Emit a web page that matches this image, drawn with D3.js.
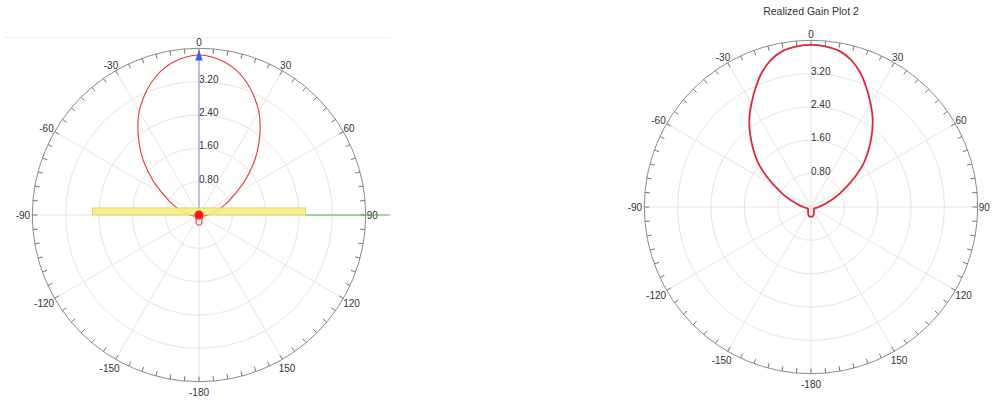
<!DOCTYPE html>
<html>
<head>
<meta charset="utf-8">
<script src="https://cdn.jsdelivr.net/npm/d3@7"></script>
<style>
    body { margin: 0; background: #fff; }
    text { font-family: "Liberation Sans", Arial, sans-serif; fill: #333; }
</style>
</head>
<body>
<div id="chart"></div>
<script>
// polar angle samples (deg, 0 = top, clockwise)
const angleDeg = [-180, -175, -170, -165, -160, -155, -150, -145, -140, -135, -130, -125,
    -120, -115, -110, -105, -100, -95, -90, -85, -80, -75, -70, -65,
    -60, -55, -50, -45, -40, -35, -30, -25, -20, -15, -10, -5,
    0, 5, 10, 15, 20, 25, 30, 35, 40, 45, 50, 55,
    60, 65, 70, 75, 80, 85, 90, 95, 100, 105, 110, 115,
    120, 125, 130, 135, 140, 145, 150, 155, 160, 165, 170, 175];

// realized gain
const gainPlot1 = [0.24, 0.24, 0.24, 0.22, 0.20, 0.165, 0.14, 0.125, 0.11, 0.10, 0.095, 0.09,
    0.085, 0.085, 0.09, 0.10, 0.13, 0.16, 0.20, 0.26, 0.35, 0.47, 0.61, 0.78,
    0.98, 1.27, 1.57, 1.91, 2.23, 2.56, 2.87, 3.13, 3.37, 3.57, 3.71, 3.80,
    3.84, 3.80, 3.71, 3.57, 3.37, 3.13, 2.87, 2.56, 2.23, 1.91, 1.57, 1.27,
    0.98, 0.78, 0.61, 0.47, 0.35, 0.26, 0.20, 0.16, 0.13, 0.10, 0.09, 0.085,
    0.085, 0.09, 0.095, 0.10, 0.11, 0.125, 0.14, 0.165, 0.20, 0.22, 0.24, 0.24];
const gainPlot2 = [0.23, 0.23, 0.23, 0.21, 0.19, 0.16, 0.14, 0.125, 0.11, 0.10, 0.095, 0.09,
    0.085, 0.085, 0.09, 0.10, 0.12, 0.15, 0.18, 0.23, 0.30, 0.40, 0.56, 0.76,
    1.00, 1.32, 1.66, 1.96, 2.27, 2.58, 2.86, 3.15, 3.44, 3.67, 3.81, 3.87,
    3.89, 3.87, 3.81, 3.67, 3.44, 3.15, 2.86, 2.58, 2.27, 1.96, 1.66, 1.32,
    1.00, 0.76, 0.56, 0.40, 0.30, 0.23, 0.18, 0.15, 0.12, 0.10, 0.09, 0.085,
    0.085, 0.09, 0.095, 0.10, 0.11, 0.125, 0.14, 0.16, 0.19, 0.21, 0.23, 0.23];

const ringValues = [0.8, 1.6, 2.4, 3.2, 4.0];
const ringLabels = ["0.80", "1.60", "2.40", "3.20"];
const spokeAngles = [0, 30, 60, 90, 120, 150, 180, -150, -120, -90, -60, -30];
const spokeLabels = ["0", "30", "60", "90", "120", "150", "-180", "-150", "-120", "-90", "-60", "-30"];

// overlay on plot 1 (in gain units)
const boardExtent = [-2.56, 2.56];
const boardThickness = 0.17;
const greenAxisEnd = 4.58;
const blueAxisEnd = 3.96;

class PolarPlot {

    constructor(svg, cx, cy, gains, opts) {
        this.svg = svg;
        this.cx = cx;
        this.cy = cy;
        this.gains = gains;
        this.opts = opts;
        this.initVis();
    }

    initVis() {
        let vis = this;
        vis.R = 166.7;

        vis.g = vis.svg.append("g")
            .attr("transform", "translate(" + vis.cx + "," + vis.cy + ")");

        vis.r = d3.scaleLinear().domain([0, 4]).range([0, vis.R]);
        vis.a = d3.scaleLinear().domain([-180, 180]).range([-Math.PI, Math.PI]);

        // grid rings
        vis.g.selectAll(".ring")
            .data(ringValues.slice(0, -1))
            .enter().append("circle")
            .attr("r", d => vis.r(d))
            .attr("fill", "none")
            .attr("stroke", "#e4e4e4")
            .attr("stroke-width", 1);

        // spokes
        vis.g.selectAll(".spoke")
            .data(spokeAngles)
            .enter().append("line")
            .attr("x1", 0).attr("y1", 0)
            .attr("x2", d => Math.sin(vis.a(d)) * vis.R)
            .attr("y2", d => -Math.cos(vis.a(d)) * vis.R)
            .attr("stroke", "#e4e4e4")
            .attr("stroke-width", 1);

        // outer circle
        vis.g.append("circle")
            .attr("r", vis.r(4))
            .attr("fill", "none")
            .attr("stroke", "#8a8a8a")
            .attr("stroke-width", 1);

        // minor ticks every 5 deg
        vis.g.selectAll(".tick")
            .data(angleDeg)
            .enter().append("line")
            .attr("x1", d => Math.sin(vis.a(d)) * vis.R)
            .attr("y1", d => -Math.cos(vis.a(d)) * vis.R)
            .attr("x2", d => Math.sin(vis.a(d)) * (vis.R - 5))
            .attr("y2", d => -Math.cos(vis.a(d)) * (vis.R - 5))
            .attr("stroke", "#777")
            .attr("stroke-width", 1);

        // angle labels
        vis.g.selectAll(".alabel")
            .data(spokeAngles)
            .enter().append("text")
            .attr("font-size", 10)
            .attr("text-anchor", "middle")
            .attr("dominant-baseline", "central")
            .attr("x", function(d, i) {
                let w = spokeLabels[i].length * 2.8;
                let s = Math.sin(vis.a(d));
                return s * (vis.R + 1) + s * w;
            })
            .attr("y", function(d) {
                let c = Math.cos(vis.a(d));
                return -c * (vis.R + 1) - c * 4.5 - (c < -0.1 ? c * 5 : 0);
            })
            .text((d, i) => spokeLabels[i]);

        // ring labels
        vis.g.selectAll(".rlabel")
            .data(ringLabels)
            .enter().append("text")
            .attr("font-size", 10)
            .attr("x", 0)
            .attr("y", (d, i) => -vis.r(ringValues[i]) + 1)
            .text(d => d);

        vis.line = d3.lineRadial()
            .angle(d => vis.a(d.angle))
            .radius(d => vis.r(d.gain))
            .curve(d3.curveCatmullRomClosed);

        vis.displayData = angleDeg.map((d, i) => ({angle: d, gain: vis.gains[i]}));

        vis.g.append("path")
            .datum(vis.displayData)
            .attr("fill", "none")
            .attr("stroke", vis.opts.color)
            .attr("stroke-width", vis.opts.width)
            .attr("d", vis.line);

        if (vis.opts.title) {
            vis.svg.append("text")
                .attr("x", vis.cx)
                .attr("y", 15)
                .attr("text-anchor", "middle")
                .attr("font-size", 10.5)
                .text(vis.opts.title);
        }
    }

    drawOverlay() {
        let vis = this;
        let ov = vis.g.append("g");

        // green axis
        ov.append("line")
            .attr("x1", vis.r(boardExtent[1])).attr("y1", 0)
            .attr("x2", vis.r(greenAxisEnd)).attr("y2", 0)
            .attr("stroke", "#4caf50")
            .attr("stroke-width", 1.2);

        // blue axis + arrow
        ov.append("line")
            .attr("x1", 0).attr("y1", 0)
            .attr("x2", 0).attr("y2", -vis.r(blueAxisEnd) + 8)
            .attr("stroke", "#7a8fe0")
            .attr("stroke-width", 1);
        let tip = -vis.r(blueAxisEnd);
        ov.append("path")
            .attr("d", "M0," + tip + "L3.8," + (tip + 10.5) + "L-3.8," + (tip + 10.5) + "Z")
            .attr("fill", "#3c5fe6");

        // board
        ov.append("rect")
            .attr("x", -vis.r(boardExtent[1]))
            .attr("y", -vis.r(boardThickness))
            .attr("width", vis.r(boardExtent[1]) - vis.r(boardExtent[0]))
            .attr("height", vis.r(boardThickness))
            .attr("fill", "#f6ef7e")
            .attr("fill-opacity", 0.9)
            .attr("stroke", "#d8cf5a")
            .attr("stroke-width", 0.8);

        // feed dot
        ov.append("circle")
            .attr("r", 4.5)
            .attr("fill", "#ff1a1a");
    }
}

let svg = d3.select("#chart").append("svg")
    .attr("width", 992)
    .attr("height", 400);

// panel edge above plot 1
svg.append("line")
    .attr("x1", 5).attr("x2", 390)
    .attr("y1", 37.5).attr("y2", 37.5)
    .attr("stroke", "#eeeeee");

let plot1 = new PolarPlot(svg, 199, 215, gainPlot1, {color: "#e23a3a", width: 1.1});
plot1.drawOverlay();
let plot2 = new PolarPlot(svg, 811, 207, gainPlot2, {color: "#dd2a3a", width: 1.8, title: "Realized Gain Plot 2"});
</script>
</body>
</html>
